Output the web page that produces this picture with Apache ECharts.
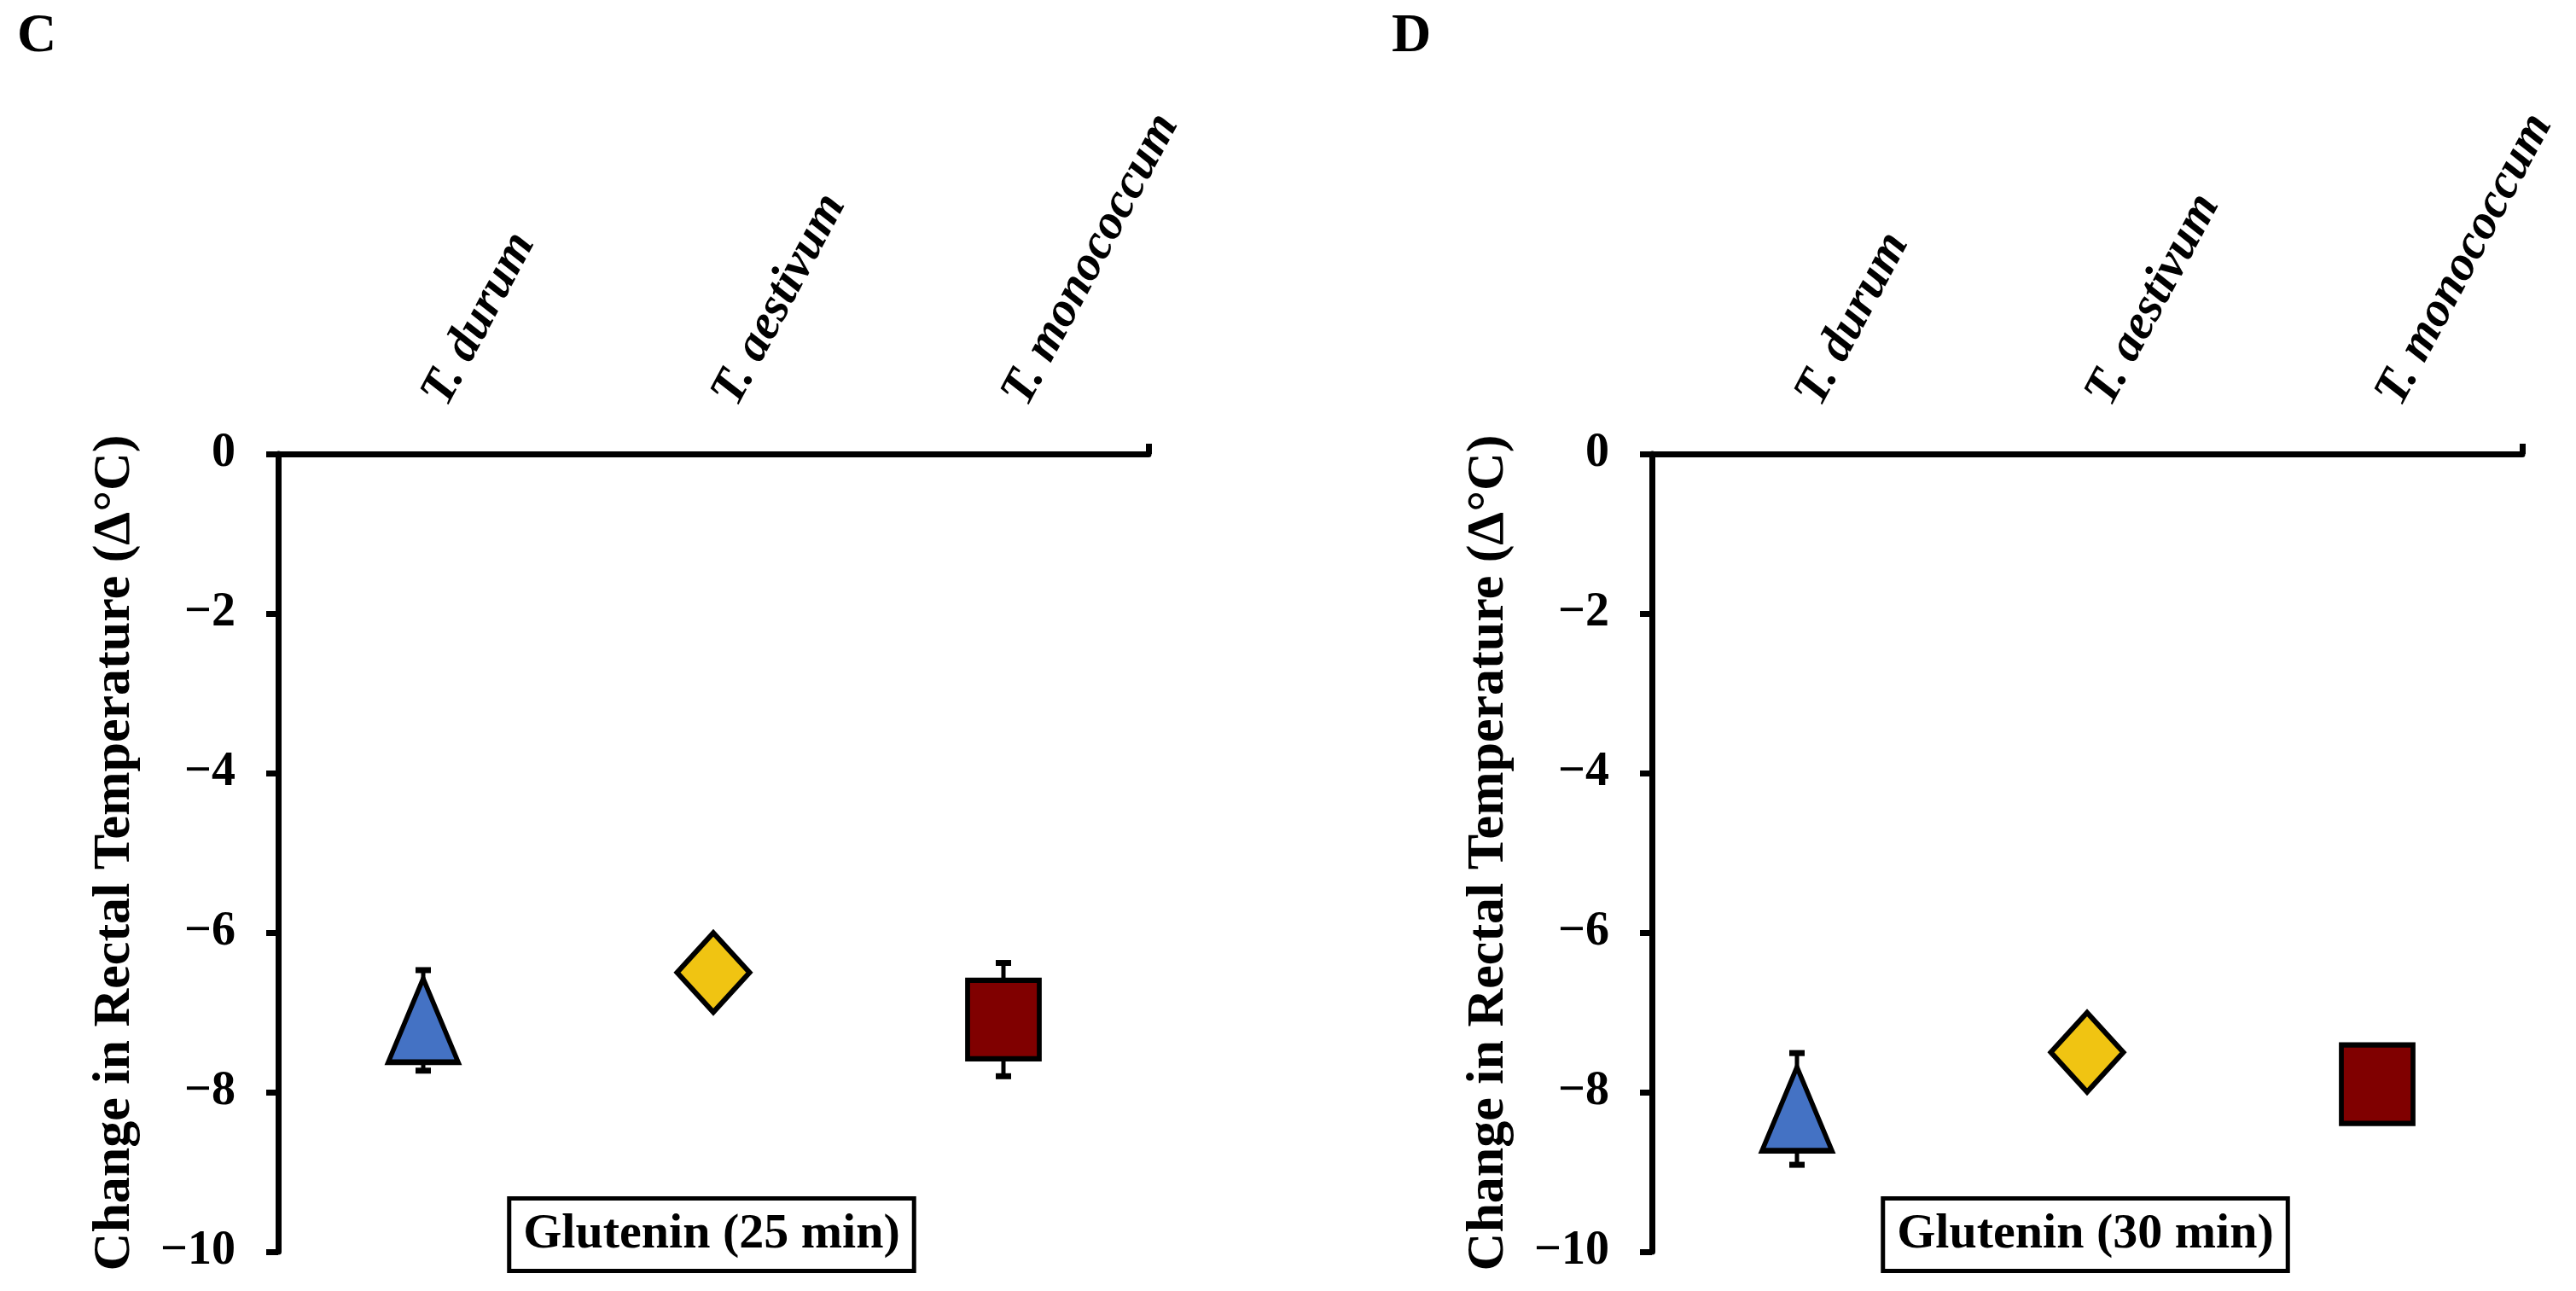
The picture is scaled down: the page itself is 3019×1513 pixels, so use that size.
<!DOCTYPE html>
<html>
<head>
<meta charset="utf-8">
<script src="https://cdn.jsdelivr.net/npm/echarts@6/dist/echarts.min.js"></script>
<style>
  html, body { margin: 0; padding: 0; background: #fff; }
  #chart { width: 3019px; height: 1513px; }
</style>
</head>
<body>
<div id="chart"></div>
<script>
// data
const categories = ['T. durum', 'T. aestivum', 'T. monococcum'];
const meanC = [-7.10, -6.50, -7.09];   // Glutenin 25 min
const errC = [0.63, null, 0.71];
const meanD = [-8.21, -7.50, -7.90];   // Glutenin 30 min
const errD = [0.70, null, null];
const yMin = -10, yMax = 0, yStep = 2;
const boxLabels = ['Glutenin (25 min)', 'Glutenin (30 min)'];
const panelLetters = ['C', 'D'];
const yTitle = 'Change in Rectal Temperature (\u0394\u00b0C)';

// styles
const FONT = '"Liberation Serif", "Times New Roman", serif';
const markers = [
  { symbol: 'triangle', size: [82, 98], color: '#4472C4' },
  { symbol: 'diamond', size: [85, 93], color: '#F0C412' },
  { symbol: 'rect', size: [84, 92], color: '#800000' }
];
const gridLefts = [326, 1936];

const chart = echarts.init(document.getElementById('chart'));

function minusFmt(v) {
  return v < 0 ? '\u2212' + (-v) : String(v);
}

const grids = [], xAxes = [], yAxes = [], series = [], graphics = [];

[meanC, meanD].forEach(function (means, g) {
  const errs = g === 0 ? errC : errD;
  grids.push({ left: gridLefts[g], top: 532, width: 1020, height: 935, containLabel: false });

  xAxes.push({
    type: 'category', gridIndex: g, position: 'top', data: categories,
    boundaryGap: true,
    axisLine: { onZero: false, lineStyle: { color: '#000', width: 7 } },
    axisTick: { alignWithLabel: true, length: 12, lineStyle: { color: '#000', width: 7 } },
    axisLabel: {
      rotate: -62, margin: 34, padding: [0, 0, 0, 30], color: '#000',
      fontFamily: FONT, fontSize: 58, fontWeight: 'bold', fontStyle: 'italic'
    },
    splitLine: { show: false }
  });

  yAxes.push({
    type: 'value', gridIndex: g, min: yMin, max: yMax, interval: yStep,
    name: yTitle, nameLocation: 'middle', nameGap: 160, nameRotate: 90,
    nameTextStyle: { color: '#000', fontFamily: FONT, fontSize: 62, fontWeight: 'bold' },
    axisLine: { show: true, lineStyle: { color: '#000', width: 7 } },
    axisTick: { show: true, length: 14, lineStyle: { color: '#000', width: 7 } },
    axisLabel: {
      margin: 50, color: '#000', formatter: minusFmt,
      fontFamily: FONT, fontSize: 56, fontWeight: 'bold'
    },
    splitLine: { show: false }
  });

  // error bars
  const errData = [];
  means.forEach(function (m, i) {
    if (errs[i] != null) errData.push([i, m, errs[i]]);
  });
  series.push({
    type: 'custom', xAxisIndex: g, yAxisIndex: g, z: 1, silent: true,
    data: errData,
    renderItem: function (params, api) {
      const i = api.value(0), m = api.value(1), e = api.value(2);
      const top = api.coord([i, m + e]);
      const bot = api.coord([i, m - e]);
      const capW = 18, capH = 7;
      return {
        type: 'group',
        children: [
          { type: 'line', shape: { x1: top[0], y1: top[1], x2: bot[0], y2: bot[1] },
            style: { stroke: '#000', lineWidth: 5 } },
          { type: 'rect', shape: { x: top[0] - capW / 2, y: top[1] - capH / 2, width: capW, height: capH },
            style: { fill: '#000' } },
          { type: 'rect', shape: { x: bot[0] - capW / 2, y: bot[1] - capH / 2, width: capW, height: capH },
            style: { fill: '#000' } }
        ]
      };
    }
  });

  // markers
  series.push({
    type: 'scatter', xAxisIndex: g, yAxisIndex: g, z: 3,
    data: means.map(function (m, i) {
      return {
        value: [i, m],
        symbol: markers[i].symbol,
        symbolSize: markers[i].size,
        itemStyle: { color: markers[i].color, borderColor: '#000', borderWidth: 6, opacity: 1 }
      };
    })
  });

  graphics.push({
    type: 'text', x: gridLefts[g] + 508, y: 1447, z: 10,
    style: {
      text: boxLabels[g], font: 'bold 58px ' + FONT, fill: '#000',
      align: 'center', verticalAlign: 'middle',
      backgroundColor: '#fff', borderColor: '#000', borderWidth: 5,
      padding: [12, 14, 10, 14]
    }
  });
  graphics.push({
    type: 'text', x: g === 0 ? 20 : 1631, y: 43, z: 10,
    style: {
      text: panelLetters[g], font: 'bold 64px ' + FONT, fill: '#000',
      align: 'left', verticalAlign: 'middle'
    }
  });
});

// extra value axes carrying only the tick at the right end of each category axis
[0, 1].forEach(function (g) {
  xAxes.push({
    type: 'value', gridIndex: g, position: 'top', min: 0, max: 3,
    axisLine: { show: false },
    axisTick: { show: true, customValues: [3], length: 12, lineStyle: { color: '#000', width: 7 } },
    axisLabel: { show: false },
    splitLine: { show: false }
  });
});

chart.setOption({
  backgroundColor: '#fff',
  animation: false,
  grid: grids,
  xAxis: xAxes,
  yAxis: yAxes,
  series: series,
  graphic: graphics
});
</script>
</body>
</html>
